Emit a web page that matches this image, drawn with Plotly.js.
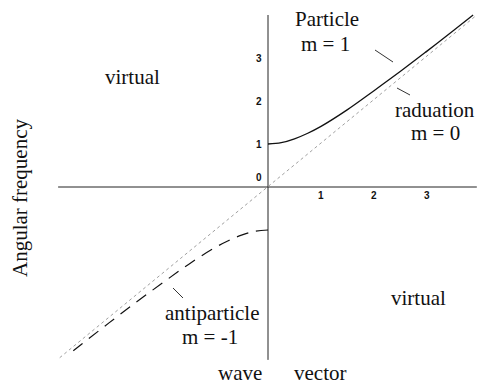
<!DOCTYPE html>
<html>
<head>
<meta charset="utf-8">
<script src="https://cdn.plot.ly/plotly-3.0.1.min.js"></script>
<style>html,body{margin:0;padding:0;background:#fff;}#chart{width:477px;height:387px;}</style>
</head>
<body>
<div id="chart"></div>
<script>
// Values (wave vector k, angular frequency w)
var particleK = [0, 0.25, 0.5, 0.75, 1, 1.5, 2, 2.5, 3, 3.5, 3.87];
var particleW = [1.0, 1.03, 1.12, 1.25, 1.41, 1.8, 2.24, 2.69, 3.16, 3.64, 4.0];
var antiK = [0, -0.25, -0.5, -0.75, -1, -1.5, -2, -2.5, -3, -3.5, -3.75];
var antiW = [-1.0, -1.03, -1.12, -1.25, -1.41, -1.8, -2.24, -2.69, -3.16, -3.64, -3.88];
var radK = [-3.93, 3.94];
var radW = [-3.97, 4.0];
var axisXk = [-3.96, 3.94];
var axisXw = [0, 0];
var axisYk = [0, 0];
var axisYw = [4.0, -4.02];
var xTickVals = [1, 2, 3];
var xTickText = ['1', '2', '3'];
var yTickVals = [0, 1, 2, 3];
var yTickText = ['0', '1', '2', '3'];

// pixel geometry of the plot
var W = 477, H = 387;
var X0 = 268, Y0 = 187, UX = 53, UY = 43;
var xr = [-X0 / UX, (W - X0) / UX];
var yr = [(Y0 - H) / UY, Y0 / UY];
function px(x) { return (x - X0) / UX; }
function py(y) { return (Y0 - y) / UY; }

var serif = 'Liberation Serif, Times New Roman, serif';
var blk = '#111';

var traces = [
  {x: axisXk, y: axisXw, mode: 'lines', line: {color: '#222', width: 1}, hoverinfo: 'skip'},
  {x: axisYk, y: axisYw, mode: 'lines', line: {color: '#222', width: 1}, hoverinfo: 'skip'},
  {x: radK, y: radW, mode: 'lines', line: {color: '#a0a0a0', width: 1, dash: 'dot'}, hoverinfo: 'skip'},
  {x: particleK, y: particleW, mode: 'lines', line: {color: blk, width: 1.3, shape: 'spline'}},
  {x: antiK, y: antiW, mode: 'lines', line: {color: blk, width: 1.2, dash: '12px,8px', shape: 'spline'}}
];

var anns = [];
function txt(t, x, y, size, extra) {
  var a = {text: t, x: px(x), y: py(y), xref: 'x', yref: 'y', showarrow: false,
    xanchor: 'center', yanchor: 'middle', font: {family: serif, size: size || 21, color: blk}};
  if (extra) for (var k in extra) a[k] = extra[k];
  anns.push(a);
}
txt('Particle', 327, 19);
txt('m = 1', 325, 44);
txt('raduation', 435, 110);
txt('m = 0', 435, 133);
txt('antiparticle', 212, 313);
txt('m = -1', 210, 337);
txt('virtual', 132, 77);
txt('virtual', 418, 298);
txt('wave', 240, 387, 21, {yanchor: 'bottom'});
txt('vector', 320, 387, 21, {yanchor: 'bottom'});
txt('Angular frequency', 20, 198, 21, {textangle: -90});

xTickVals.forEach(function (v, i) {
  anns.push({text: '<b>' + xTickText[i] + '</b>', x: v, y: 0, xref: 'x', yref: 'y', showarrow: false,
    xanchor: 'center', yanchor: 'top', yshift: -1,
    font: {family: 'Liberation Sans, Arial, sans-serif', size: 10, color: blk}});
});
yTickVals.forEach(function (v, i) {
  anns.push({text: '<b>' + yTickText[i] + '</b>', x: 0, y: v, xref: 'x', yref: 'y', showarrow: false,
    xanchor: 'right', yanchor: 'middle', xshift: -4, yshift: (v === 0 ? 10 : 0),
    font: {family: 'Liberation Sans, Arial, sans-serif', size: 10, color: blk}});
});

// leader ticks from labels to curves
var leaders = [[375, 50, 393, 62], [397, 88, 410, 95], [173, 288, 183, 298]];
var shapes = leaders.map(function (l) {
  return {type: 'line', xref: 'x', yref: 'y', x0: px(l[0]), y0: py(l[1]), x1: px(l[2]), y1: py(l[3]),
    line: {color: '#333', width: 1}};
});

var layout = {
  width: W, height: H,
  margin: {l: 0, r: 0, t: 0, b: 0, pad: 0},
  paper_bgcolor: '#fff', plot_bgcolor: '#fff',
  showlegend: false,
  xaxis: {range: xr, showgrid: false, zeroline: false, showticklabels: false, showline: false, ticks: '', fixedrange: true},
  yaxis: {range: yr, showgrid: false, zeroline: false, showticklabels: false, showline: false, ticks: '', fixedrange: true},
  annotations: anns,
  shapes: shapes
};

Plotly.newPlot('chart', traces, layout, {displayModeBar: false, staticPlot: true});
</script>
</body>
</html>
